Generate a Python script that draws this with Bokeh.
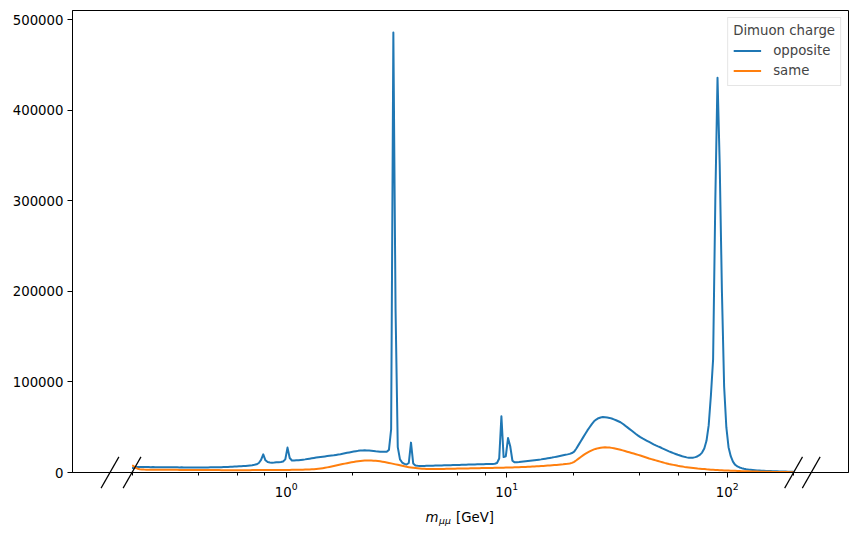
import numpy as np
from bokeh.plotting import figure
from bokeh.core.properties import value
from bokeh.models import (Range1d, Legend, LegendItem, SingleIntervalTicker,
                          BasicTickFormatter, LogTicker)
from bokeh.embed import file_html
from bokeh.resources import INLINE

# ---------------- data ----------------
MASS_MIN = 0.2      # GeV, first bin edge
MASS_MAX = 200.0    # GeV, last bin edge
N_BINS = 300        # log-spaced bins

series_labels = ["opposite", "same"]
legend_title = "Dimuon charge"
x_label_parts = ["m", "\u03bc\u03bc", "[GeV]"]

opposite = [
    5000, 5900, 6100, 6000, 6050, 5950, 6000, 5950, 5900, 5950,
    5900, 5850, 5900, 5800, 5850, 5800, 5750, 5800, 5700, 5750,
    5700, 5650, 5700, 5650, 5600, 5650, 5600, 5600, 5550, 5600,
    5550, 5600, 5600, 5650, 5600, 5700, 5700, 5750, 5800, 5850,
    5900, 6000, 6050, 6150, 6250, 6350, 6500, 6650, 6800, 6950,
    7100, 7300, 7550, 7800, 8100, 8500, 9100, 10500, 14000, 20000,
    13500, 11500, 11000, 10900, 11000, 11200, 11400, 11700, 12200, 14500,
    27500, 16000, 13300, 13200, 13400, 13600, 13900, 14200, 14500, 14900,
    15300, 15700, 16100, 16500, 16900, 17200, 17500, 17800, 18100, 18400,
    18700, 19000, 19400, 19800, 20200, 20700, 21200, 21700, 22200, 22700,
    23100, 23500, 23900, 24200, 24400, 24500, 24400, 24200, 24000, 23700,
    23400, 23200, 23000, 22800, 22800, 23000, 25000, 48000, 486000, 180000,
    28000, 14500, 11000, 9500, 8800, 10500, 33000, 10000, 7800, 7400,
    7300, 7250, 7300, 7350, 7400, 7450, 7500, 7600, 7700, 7750,
    7800, 7900, 8000, 8050, 8100, 8200, 8300, 8350, 8400, 8500,
    8600, 8650, 8700, 8800, 8900, 8950, 9000, 9100, 9150, 9200,
    9300, 9350, 9400, 9500, 9700, 10500, 15500, 62000, 17000, 18000,
    38000, 29000, 13000, 11200, 11300, 11500, 11800, 12100, 12400, 12700,
    13000, 13300, 13600, 13900, 14200, 14500, 14900, 15300, 15700, 16100,
    16500, 17000, 17500, 18000, 18500, 19000, 19500, 20000, 20600, 21500,
    23000, 26500, 30500, 34500, 38500, 42500, 46500, 50000, 53500, 56500,
    58500, 60000, 60800, 61200, 61100, 60800, 60300, 59600, 58700, 57700,
    56600, 55500, 53800, 52000, 50100, 48200, 46300, 44400, 42500, 40700,
    39000, 37600, 36300, 35000, 33700, 32400, 31100, 29900, 28800, 27900,
    26700, 25600, 24500, 23400, 22400, 21400, 20500, 19600, 18800, 18000,
    17300, 16700, 16300, 16200, 16400, 17000, 18000, 19500, 22000, 26500,
    35000, 52000, 85000, 125000, 300000, 436000, 340000, 200000, 95000, 50000,
    28000, 18000, 12000, 8500, 6800, 5600, 4800, 4200, 3700, 3300,
    3000, 2750, 2550, 2350, 2200, 2050, 1900, 1750, 1650, 1550,
    1450, 1350, 1250, 1150, 1100, 1050, 1000, 950, 900, 850,
]

same = [
    7500, 5200, 4200, 3700, 3400, 3200, 3150, 3100, 3100, 3050,
    3050, 3000, 3000, 3000, 2950, 2950, 2950, 2900, 2900, 2900,
    2900, 2850, 2850, 2850, 2800, 2800, 2800, 2750, 2750, 2750,
    2750, 2700, 2700, 2700, 2700, 2650, 2650, 2650, 2650, 2650,
    2600, 2600, 2600, 2600, 2600, 2600, 2600, 2600, 2600, 2600,
    2600, 2600, 2600, 2600, 2650, 2650, 2650, 2650, 2650, 2700,
    2700, 2700, 2700, 2700, 2750, 2750, 2750, 2800, 2800, 2800,
    2850, 2850, 2900, 2900, 2950, 3000, 3050, 3100, 3200, 3300,
    3400, 3550, 3700, 3900, 4150, 4450, 4800, 5200, 5650, 6100,
    6600, 7100, 7650, 8200, 8750, 9300, 9800, 10300, 10800, 11250,
    11700, 12100, 12500, 12800, 13050, 13200, 13300, 13300, 13200, 13050,
    12850, 12600, 12300, 11950, 11550, 11100, 10600, 10100, 9550, 9000,
    8450, 7900, 7350, 6850, 6350, 5900, 5500, 5150, 4850, 4600,
    4400, 4250, 4100, 4000, 3950, 3900, 3900, 3900, 3950, 3950,
    4000, 4000, 4050, 4100, 4150, 4200, 4250, 4300, 4350, 4400,
    4450, 4500, 4550, 4600, 4650, 4700, 4750, 4800, 4850, 4900,
    4950, 5000, 5050, 5100, 5150, 5200, 5250, 5300, 5350, 5400,
    5450, 5500, 5600, 5700, 5800, 5900, 6000, 6100, 6200, 6300,
    6400, 6550, 6700, 6850, 7000, 7150, 7300, 7450, 7600, 7800,
    8000, 8200, 8400, 8600, 8800, 9000, 9300, 9600, 10000, 10600,
    11800, 13500, 15300, 17100, 18900, 20500, 22000, 23300, 24500, 25500,
    26300, 26900, 27400, 27700, 27800, 27700, 27500, 27200, 26800, 26300,
    25700, 25100, 24400, 23700, 23000, 22300, 21600, 20900, 20200, 19500,
    18700, 17900, 17100, 16300, 15500, 14800, 14100, 13400, 12700, 12000,
    11300, 10600, 10000, 9400, 8900, 8400, 7900, 7400, 7000, 6600,
    6200, 5900, 5600, 5300, 5000, 4700, 4400, 4200, 4000, 3800,
    3500, 3300, 3100, 2950, 2800, 2650, 2500, 2400, 2300, 2200,
    2100, 2000, 1900, 1800, 1700, 1600, 1500, 1400, 1330, 1260,
    1200, 1140, 1080, 1020, 960, 900, 850, 800, 750, 700,
    660, 620, 580, 540, 510, 480, 450, 420, 400, 380,
]

# ---------------- figure ----------------
edges = np.logspace(np.log10(MASS_MIN), np.log10(MASS_MAX), N_BINS + 1)
centers = np.sqrt(edges[:-1] * edges[1:])
FONT = "DejaVu Sans"
FS = "13.3px"
x_lo = MASS_MIN / 10 ** 0.27
x_hi = MASS_MAX * 10 ** 0.249
y_hi = max(opposite) * 1.05
FRAME_H = 462

p = figure(width=857, height=535, x_axis_type="log",
           x_range=Range1d(x_lo, x_hi),
           y_range=Range1d(0, y_hi),
           output_backend="svg", toolbar_location=None,
           min_border_left=72, min_border_right=9, min_border_top=10, min_border_bottom=63)
p.background_fill_color = "white"
p.border_fill_color = "white"
p.outline_line_color = "black"
p.outline_line_width = 1
p.outline_line_alpha = 1
p.xgrid.grid_line_color = None
p.ygrid.grid_line_color = None

colors = ["#1f77b4", "#ff7f0e"]
renderers = []
for vals, col in zip([opposite, same], colors):
    xx = np.concatenate([[edges[0]], centers, [edges[-1]]])
    yy = np.concatenate([[vals[0]], vals, [vals[-1]]]).astype(float)
    r = p.line(xx, yy, line_color=col, line_width=2, line_join="round")
    renderers.append(r)

# flow markers "//" at both ends of the histogram range
flow_x = [edges[0] / 10 ** 0.1, edges[0], edges[-1], edges[-1] * 10 ** 0.08]
p.scatter(flow_x, [0] * len(flow_x), marker="dash", size=36, angle=60.3,
          angle_units="deg", line_color="black", line_width=1.2, level="overlay")

# axes
p.yaxis.ticker = SingleIntervalTicker(interval=100000, num_minor_ticks=0)
p.yaxis.formatter = BasicTickFormatter(use_scientific=False)
p.xaxis.ticker = LogTicker(mantissas=[1])
for ax in (p.xaxis, p.yaxis):
    ax.axis_line_color = "black"
    ax.axis_line_width = 1
    ax.major_tick_line_color = "black"
    ax.minor_tick_line_color = "black"
    ax.major_tick_out = 5
    ax.major_tick_in = 0
    ax.minor_tick_out = 3
    ax.minor_tick_in = 0
    ax.major_label_text_font = FONT
    ax.major_label_text_font_size = FS
    ax.major_label_text_color = "black"
    ax.major_label_standoff = 4
p.yaxis.minor_tick_line_color = None

# x-axis label built from pieces: italic m, subscript mu mu, [GeV]
x_mid = np.sqrt(x_lo * x_hi)
px_y = y_hi / FRAME_H
label_specs = [
    (x_label_parts[0], -35, 45, FS, "italic"),
    (x_label_parts[1], -21.5, 47.5, "9.3px", "italic"),
    (x_label_parts[2], -4.5, 45, FS, "normal"),
]
for txt, dx, dy, fs, style in label_specs:
    p.text(x=[x_mid], y=[-dy * px_y], text=[txt], x_offset=dx,
           text_font=value(FONT), text_font_style=value(style), text_font_size=value(fs),
           text_baseline="alphabetic", text_align="left", text_color="black",
           level="overlay")

legend = Legend(items=[LegendItem(label=series_labels[i], renderers=[renderers[i]]) for i in range(2)],
                location="top_right", title=legend_title)
legend.title_text_font = FONT
legend.title_text_font_size = FS
legend.title_text_font_style = "normal"
legend.title_standoff = 3
legend.label_text_font = FONT
legend.label_text_font_size = FS
legend.glyph_width = 28
legend.glyph_height = 19
legend.label_height = 19
legend.label_standoff = 12
legend.padding = 5
legend.spacing = 1
legend.margin = 7
legend.border_line_color = "#cccccc"
legend.border_line_width = 1
legend.background_fill_alpha = 0.8
p.add_layout(legend)

open("out.html", "w").write(file_html(p, INLINE))
